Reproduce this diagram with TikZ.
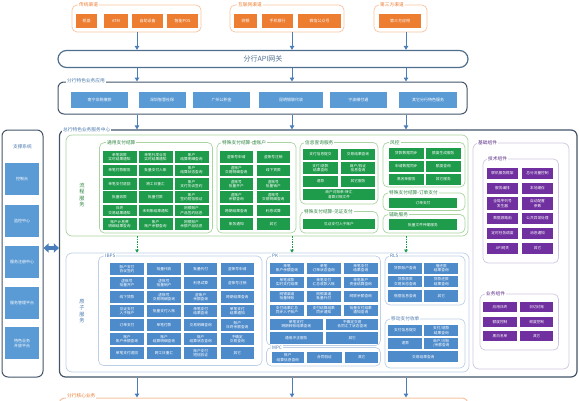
\documentclass[tikz,border=0pt]{standalone}
\usepackage{fontspec}
\setmainfont{Noto Sans CJK SC}
\usetikzlibrary{arrows.meta}

\definecolor{chorange}{HTML}{ED7D31}
\definecolor{chline}{HTML}{F6C3A0}
\definecolor{frame}{HTML}{44546A}
\definecolor{gwline}{HTML}{4F6F8F}
\definecolor{cblue}{HTML}{5B9BD5}
\definecolor{ablue}{HTML}{4E8BCB}
\definecolor{lblue}{HTML}{BDD0E6}
\definecolor{tblue}{HTML}{4A79AE}
\definecolor{cgreen}{HTML}{1E9B4B}
\definecolor{lgreen}{HTML}{A9D4A0}
\definecolor{tgreen}{HTML}{2E8540}
\definecolor{cpurple}{HTML}{7030A0}
\definecolor{lpurple}{HTML}{CFC6E0}
\definecolor{tpurple}{HTML}{5B2C86}
\definecolor{arrowblue}{HTML}{4A7EBB}

\begin{document}
\begin{tikzpicture}[x=1pt, y=-1pt,
  box/.style={draw=#1, rounded corners=5pt, line width=0.7pt, inner sep=0pt},
  ttl/.style={fill=white, inner sep=1pt, anchor=west, text=#1, font=\fontsize{4.7}{5}\selectfont},
  cell/.style={fill=#1, text=white, inner sep=0pt, align=center, font=\fontsize{3.7}{4.3}\selectfont},
  ocell/.style={cell=chorange, minimum height=14pt, font=\fontsize{4}{4.5}\selectfont},
  bcell/.style={cell=cblue, minimum height=16pt, font=\fontsize{4}{4.5}\selectfont},
  scell/.style={cell=cblue, minimum width=34pt, minimum height=32pt, font=\fontsize{4}{5}\selectfont},
  gcell/.style={cell=cgreen, minimum width=34pt, minimum height=11.6pt},
  icell/.style={cell=ablue, minimum width=33.5pt, minimum height=11.5pt},
  pcell/.style={cell=cpurple, minimum width=31.6pt, minimum height=10.5pt},
  arrow/.style={-{Triangle[width=4.5pt,length=4pt]}, line width=1pt, draw=arrowblue},
  dasharrow/.style={-{Triangle[width=3.5pt,length=3pt]}, line width=0.6pt, draw=cgreen, dash pattern=on 1.5pt off 1pt},
  dblarrow/.style={{Triangle[width=9pt,length=5pt]}-{Triangle[width=9pt,length=5pt]}, line width=3.5pt, draw=arrowblue}
]
\clip (0,0) rectangle (579,400);

\coordinate (colA) at (137,0);
\coordinate (colB) at (292,0);
\coordinate (colC) at (406,0);

% channels
\node[box=chline, minimum width=129pt, minimum height=27pt] (trad) at (136.5,18.5) {};
\node[box=chline, minimum width=114pt, minimum height=27pt] (net) at (287,18.5) {};
\node[box=chline, minimum width=53pt, minimum height=27pt] (third) at (400.5,18.5) {};
\node[ttl=chorange] (tradT) at (78,5) {传统渠道};
\node[ttl=chorange] (netT) at (237,5) {互联网渠道};
\node[ttl=chorange] (thirdT) at (379,5) {第三方渠道};

\node[ocell, minimum width=21pt] (trad1) at (86.5,21) {柜面};
\node[ocell, minimum width=24pt] (trad2) at (116,21) {ATM};
\node[ocell, minimum width=31pt] (trad3) at (147.5,21) {自助设备};
\node[ocell, minimum width=31pt] (trad4) at (182.5,21) {智能POS};
\node[ocell, minimum width=23.5pt] (net1) at (245.7,21) {网银};
\node[ocell, minimum width=31pt] (net2) at (277.5,21) {手机银行};
\node[ocell, minimum width=43pt] (net3) at (319.5,21) {微信公众号};
\node[ocell, minimum width=42pt] (third1) at (400,21) {第三方应用};

% gateway
\node[draw=gwline, line width=1.2pt, rounded corners=8.5pt, minimum width=410pt, minimum height=17pt,
  text=gwline, font=\fontsize{7}{8}\selectfont] (gw) at (263,59) {分行API网关};

\draw[arrow] (trad.south -| colA) -- (gw.north -| colA);
\draw[arrow] (net.south -| colB) -- (gw.north -| colB);
\draw[arrow] (third.south -| colC) -- (gw.north -| colC);

% branch applications
\node[box=frame, line width=1pt, rounded corners=6pt, minimum width=409pt, minimum height=32pt] (br) at (262.5,98) {};
\node[ttl=tblue] (brT) at (66,81) {分行特色业务应用};
\node[bcell, minimum width=57pt] (br1) at (99.7,99.7) {南宁非税缴款};
\node[bcell, minimum width=47pt] (br2) at (162,99.7) {深圳智慧社保};
\node[bcell, minimum width=56.7pt] (br3) at (221.7,99.7) {广州公积金};
\node[bcell, minimum width=63.4pt] (br4) at (291,99.7) {昆明银联代收};
\node[bcell, minimum width=56.7pt] (br5) at (358.3,99.7) {宁波缴付通};
\node[bcell, minimum width=57.4pt] (br6) at (428,99.7) {其它分行特色服务};

\draw[arrow] (gw.south -| colA) -- (br.north -| colA);
\draw[arrow] (gw.south -| colB) -- (br.north -| colB);
\draw[arrow] (gw.south -| colC) -- (br.north -| colC);

% support systems
\node[box=frame, line width=1pt, rounded corners=6pt, minimum width=41pt, minimum height=247pt] (support) at (22.5,253.5) {};
\node[text=tblue, font=\fontsize{4.7}{5}\selectfont] (supT) at (22.5,147) {支撑系统};
\node[scell] (sup1) at (22.2,179) {控制台};
\node[scell] (sup2) at (22.2,221) {监控中心};
\node[scell] (sup3) at (22.2,261.5) {服务注册中心};
\node[scell] (sup4) at (22.2,302.5) {服务管理平台};
\node[scell] (sup5) at (22.2,343.3) {特色业务\\开放平台};

% service center
\node[box=frame, line width=1.2pt, rounded corners=6pt, minimum width=517.5pt, minimum height=247pt] (center) at (318.25,253.5) {};
\node[ttl=tblue] (centerT) at (62,130) {总行特色业务服务中心};

\draw[arrow] (br.south -| colA) -- (center.north -| colA);
\draw[arrow] (br.south -| colB) -- (center.north -| colB);
\draw[arrow] (br.south -| colC) -- (center.north -| colC);
\draw[dblarrow] ([yshift=5.5pt]support.east) -- ([yshift=5.5pt]center.west);

% process services
\node[box=lgreen, rounded corners=6pt, minimum width=402pt, minimum height=101pt] (flow) at (267,185.5) {};
\node[text=tgreen, align=center, font=\fontsize{5.2}{6.5}\selectfont] (flowL) at (82,195) {流\\程\\服\\务};

\node[box=lgreen, minimum width=113pt, minimum height=90.5pt] (gen) at (156,187.75) {};
\node[ttl=tgreen] (genT) at (106,142.5) {通用支付结算};
\node[gcell] (gen11) at (119.5,157) {单笔收款\\实时结果通知};
\node[gcell] (gen12) at (155.5,157) {单笔代发业务\\实时结果通知};
\node[gcell] (gen13) at (191.5,157) {账户\\结算明细查询};
\node[gcell] (gen21) at (119.5,170.4) {单笔付款服务};
\node[gcell] (gen22) at (155.5,170.4) {批量支付入账};
\node[gcell] (gen23) at (191.5,170.4) {账户\\结算状态查询};
\node[gcell] (gen31) at (119.5,183.8) {单笔支付退回};
\node[gcell] (gen32) at (155.5,183.8) {跨工日重汇};
\node[gcell] (gen33) at (191.5,183.8) {账户\\支付协议签约};
\node[gcell] (gen41) at (119.5,197.2) {批量收款};
\node[gcell] (gen42) at (155.5,197.2) {批量付款};
\node[gcell] (gen43) at (191.5,197.2) {账户\\签约短信验证};
\node[gcell] (gen51) at (119.5,210.6) {日终\\交易结果通知};
\node[gcell] (gen52) at (155.5,210.6) {未到账结果通知};
\node[gcell] (gen53) at (191.5,210.6) {网银账户\\产品签约信息};
\node[gcell] (gen61) at (119.5,224) {账户计息费\\明细结果查询};
\node[gcell] (gen62) at (155.5,224) {账户\\账户余额查询};
\node[gcell] (gen63) at (191.5,224) {网银账户\\余额产品信息};

\node[box=lgreen, minimum width=79pt, minimum height=90.5pt] (virt) at (256.5,187.75) {};
\node[ttl=tgreen] (virtT) at (221,142.5) {特殊支付结算-虚账户};
\node[gcell, minimum width=33pt] (virt11) at (236.3,157) {虚账号申请};
\node[gcell, minimum width=33pt] (virt12) at (273.3,157) {虚账号注销};
\node[gcell, minimum width=33pt] (virt21) at (236.3,170.4) {虚账户\\交易明细查询};
\node[gcell, minimum width=33pt] (virt22) at (273.3,170.4) {线下贷款};
\node[gcell, minimum width=33pt] (virt31) at (236.3,183.8) {虚账号\\批量开户};
\node[gcell, minimum width=33pt] (virt32) at (273.3,183.8) {虚账号\\批量销户};
\node[gcell, minimum width=33pt] (virt41) at (236.3,197.2) {虚账户\\余额查询};
\node[gcell, minimum width=33pt] (virt42) at (273.3,197.2) {虚账号\\交易明细查询};
\node[gcell, minimum width=33pt] (virt51) at (236.3,210.6) {跨期结果查询};
\node[gcell, minimum width=33pt] (virt52) at (273.3,210.6) {利息试算};
\node[gcell, minimum width=33pt] (virt61) at (236.3,224) {账务通知};
\node[gcell, minimum width=33pt] (virt62) at (273.3,224) {其它};

\node[box=lgreen, minimum width=78pt, minimum height=61.5pt] (info) at (339,173.25) {};
\node[ttl=tgreen] (infoT) at (304,142.5) {信息查询服务};
\node[gcell, minimum width=34.5pt, minimum height=11.5pt] (info11) at (320.5,154.5) {支付信息提交};
\node[gcell, minimum width=34.5pt, minimum height=11.5pt] (info12) at (358,154.5) {交易结果查询};
\node[gcell, minimum width=34.5pt, minimum height=11.5pt] (info21) at (320.5,168) {支付/退款\\结果查询};
\node[gcell, minimum width=34.5pt, minimum height=11.5pt] (info22) at (358,168) {商户/验证\\信息查询};
\node[gcell, minimum width=34.5pt, minimum height=11.5pt] (info31) at (320.5,181.5) {退款};
\node[gcell, minimum width=34.5pt, minimum height=11.5pt] (info32) at (358,181.5) {其它服务};
\node[gcell, minimum width=72pt, minimum height=11.5pt] (info41) at (339,194.5) {商户对账单-转汇\\清算对账文件};

\node[box=lgreen, minimum width=78pt, minimum height=21.5pt] (witness) at (339,222.25) {};
\node[ttl=tgreen] (witnessT) at (303,211.5) {特殊支付结算-见证支付};
\node[gcell, minimum width=72pt, minimum height=10.5pt] (witness1) at (339,224) {见证支付入子账户};

\node[box=lgreen, minimum width=82pt, minimum height=44.5pt] (risk) at (424,164.75) {};
\node[ttl=tgreen] (riskT) at (389,142.5) {风控};
\node[gcell, minimum width=34.5pt, minimum height=10.5pt] (risk11) at (406.3,153.5) {贷款数据同步};
\node[gcell, minimum width=34.5pt, minimum height=10.5pt] (risk12) at (443.3,153.5) {额度生成服务};
\node[gcell, minimum width=34.5pt, minimum height=10.5pt] (risk21) at (406.3,166.5) {申请数据同步};
\node[gcell, minimum width=34.5pt, minimum height=10.5pt] (risk22) at (443.3,166.5) {额度查询};
\node[gcell, minimum width=34.5pt, minimum height=10.5pt] (risk31) at (406.3,179.5) {黑名单服务};
\node[gcell, minimum width=34.5pt, minimum height=10.5pt] (risk32) at (443.3,179.5) {其它服务};

\node[box=lgreen, minimum width=82pt, minimum height=17.5pt] (order) at (424,201.75) {};
\node[ttl=tgreen] (orderT) at (388,193) {特殊支付结算-订单支付};
\node[gcell, minimum width=68pt, minimum height=10pt] (order1) at (423,203.3) {订单支付};

\node[box=lgreen, minimum width=82pt, minimum height=18.5pt] (aux) at (424,223.75) {};
\node[ttl=tgreen] (auxT) at (388,214.5) {辅助服务};
\node[gcell, minimum width=68pt, minimum height=10.5pt] (aux1) at (423,224.7) {批量文件传输服务};

% atomic services
\node[box=lblue, rounded corners=6pt, minimum width=403pt, minimum height=119pt] (atom) at (267.5,312.5) {};
\node[text=tblue, align=center, font=\fontsize{5.2}{6.5}\selectfont] (atomL) at (82,311) {原\\子\\服\\务};

\draw[dasharrow] (flow.south -| colA) -- (atom.north -| colA);
\draw[dasharrow] (flow.south -| colB) -- (atom.north -| colB);
\draw[dasharrow] (flow.south -| colC) -- (atom.north -| colC);

\node[box=lblue, minimum width=163.5pt, minimum height=109.5pt] (ibps) at (180.25,310.75) {};
\node[ttl=tblue] (ibpsT) at (104,256) {IBPS};
\node[icell] (ibps11) at (127,269) {账户支付\\协议签约};
\node[icell] (ibps12) at (164,269) {批量代收};
\node[icell] (ibps13) at (200.7,269) {批量代付};
\node[icell] (ibps14) at (237.3,269) {虚账号申请};
\node[icell] (ibps21) at (127,283) {虚账号\\批量开户};
\node[icell] (ibps22) at (164,283) {虚账号\\批量销户};
\node[icell] (ibps23) at (200.7,283) {利息试算};
\node[icell] (ibps24) at (237.3,283) {虚账号注销};
\node[icell] (ibps31) at (127,297) {线下贷款};
\node[icell] (ibps32) at (164,297) {虚账号\\交易明细查询};
\node[icell] (ibps33) at (200.7,297) {虚账户\\余额查询};
\node[icell] (ibps34) at (237.3,297) {跨期结果查询};
\node[icell] (ibps41) at (127,311) {见证支付\\入子账户};
\node[icell] (ibps42) at (164,311) {批量支付入账};
\node[icell] (ibps43) at (200.7,311) {单笔支付\\结果查询};
\node[icell] (ibps44) at (237.3,311) {单笔支付\\结果通知};
\node[icell] (ibps51) at (127,325) {订单支付};
\node[icell] (ibps52) at (164,325) {单笔付款};
\node[icell] (ibps53) at (200.7,325) {交易明细查询};
\node[icell] (ibps54) at (237.3,325) {账户\\日终余额查询};
\node[icell] (ibps61) at (127,339) {账户\\账户余额查询};
\node[icell] (ibps62) at (164,339) {账户\\结算明细查询};
\node[icell] (ibps63) at (200.7,339) {账户\\结算状态查询};
\node[icell] (ibps64) at (237.3,339) {不确定\\交易查询};
\node[icell] (ibps71) at (127,353) {单笔支付退回};
\node[icell] (ibps72) at (164,353) {跨工日重汇};
\node[icell] (ibps73) at (200.7,353) {账户支付\\短信验证};
\node[icell] (ibps74) at (237.3,353) {其它};

\node[box=lblue, minimum width=114pt, minimum height=89.5pt] (pk) at (323.5,300.75) {};
\node[ttl=tblue] (pkT) at (271,256) {PK};
\node[icell, minimum width=34pt] (pk11) at (287,268.3) {单笔\\账户余额查询};
\node[icell, minimum width=34pt] (pk12) at (323.8,268.3) {单笔\\订单状态查询};
\node[icell, minimum width=34pt] (pk13) at (360.8,268.3) {单笔支付\\结果查询};
\node[icell, minimum width=34pt] (pk21) at (287,282.3) {单笔收款\\实时支付结果};
\node[icell, minimum width=34pt] (pk22) at (323.8,282.3) {单笔支付\\汇总收款入账};
\node[icell, minimum width=34pt] (pk23) at (360.8,282.3) {单笔账户\\资金结算查询};
\node[icell, minimum width=34pt] (pk31) at (287,296.3) {网银渠道\\批量转账};
\node[icell, minimum width=34pt] (pk32) at (323.8,296.3) {网银渠道\\批量代付};
\node[icell, minimum width=34pt] (pk33) at (360.8,296.3) {网联余额查询};
\node[icell, minimum width=34pt] (pk41) at (287,310.3) {支付结果汇总\\同步入子账户};
\node[icell, minimum width=34pt] (pk42) at (323.8,310.3) {支付结算结果\\同步通知};
\node[icell, minimum width=34pt] (pk43) at (360.8,310.3) {批量支付结果\\通知查询};
\node[icell, minimum width=52.7pt] (pk51) at (296.3,324.3) {单笔支付\\跨期转账结果查询};
\node[icell, minimum width=52.3pt] (pk52) at (352.2,324.3) {不确定交易\\合同汇丁状态查询};
\node[icell, minimum width=52.7pt] (pk61) at (296.3,337.8) {通用冲正服务};
\node[icell, minimum width=52.3pt] (pk62) at (352.2,337.8) {其它};

\node[box=lblue, minimum width=114pt, minimum height=18.5pt] (mpc) at (323.5,356.75) {};
\node[ttl=tblue] (mpcT) at (271,347.5) {MPC};
\node[icell, minimum width=32.3pt] (mpc1) at (287.8,357.5) {账户\\结算信息查询};
\node[icell, minimum width=34.4pt] (mpc2) at (324.5,357.5) {合同验证};
\node[icell, minimum width=33.3pt] (mpc3) at (361.7,357.5) {其它};

\node[box=lblue, minimum width=80pt, minimum height=49pt] (rls) at (425,280.5) {};
\node[ttl=tblue] (rlsT) at (389,256) {RLS};
\node[icell, minimum width=34pt] (rls11) at (405.3,268.3) {贷款账户查询};
\node[icell, minimum width=34pt] (rls12) at (441.3,268.3) {借还款\\结果查询};
\node[icell, minimum width=34pt] (rls21) at (405.3,281.7) {贷款放款\\交易状态查询};
\node[icell, minimum width=34pt] (rls22) at (441.3,281.7) {贷款还款\\结果查询};
\node[icell, minimum width=34pt] (rls31) at (405.3,295.8) {借据信息查询};
\node[icell, minimum width=34pt] (rls32) at (441.3,295.8) {其它};

\node[box=lblue, minimum width=80pt, minimum height=49pt] (mobile) at (425,343.5) {};
\node[ttl=tblue] (mobileT) at (390,319) {移动支付收单};
\node[icell, minimum width=34pt] (mobile11) at (405.3,330.5) {支付信息提交};
\node[icell, minimum width=34pt] (mobile12) at (441.3,330.5) {支付/退款\\结果查询};
\node[icell, minimum width=34pt] (mobile21) at (405.3,343.3) {退款};
\node[icell, minimum width=34pt] (mobile22) at (441.3,343.3) {商户/对账\\/余额查询};
\node[icell, minimum width=70pt] (mobile31) at (423.3,356.7) {交易结果查询};

% base components
\node[box=lpurple, rounded corners=6pt, minimum width=96pt, minimum height=226pt] (base) at (521,256) {};
\node[ttl=tpurple] (baseT) at (477,143) {基础组件};
\node[box=lpurple, minimum width=75.5pt, minimum height=104pt] (tech) at (520.75,211) {};
\node[ttl=tpurple] (techT) at (487,159) {技术组件};
\node[pcell] (tech11) at (502.5,173.5) {联机服务框架};
\node[pcell] (tech12) at (537.5,173.5) {总分流量控制};
\node[pcell] (tech21) at (502.5,188.5) {服务编排};
\node[pcell] (tech22) at (537.5,188.5) {本地缓存};
\node[pcell, minimum height=13pt] (tech31) at (502.5,203.5) {全局序列号\\发生器};
\node[pcell, minimum height=13pt] (tech32) at (537.5,203.5) {自动配置\\参数};
\node[pcell] (tech41) at (502.5,218.5) {数据源路由};
\node[pcell] (tech42) at (537.5,218.5) {公共异常处理};
\node[pcell] (tech51) at (502.5,233.5) {定时任务调度};
\node[pcell] (tech52) at (537.5,233.5) {消息通知};
\node[pcell] (tech61) at (502.5,248.5) {API网关};
\node[pcell] (tech62) at (537.5,248.5) {其它};

\node[box=lpurple, minimum width=78.5pt, minimum height=56pt] (biz) at (519.25,322) {};
\node[ttl=tpurple] (bizT) at (485,294) {业务组件};
\node[pcell, minimum width=33.3pt, minimum height=10pt] (biz11) at (500,306.7) {应用日终};
\node[pcell, minimum width=33.3pt, minimum height=10pt] (biz12) at (536.7,306.7) {日切对账};
\node[pcell, minimum width=33.3pt, minimum height=10pt] (biz21) at (500,321.7) {额度控制};
\node[pcell, minimum width=33.3pt, minimum height=10pt] (biz22) at (536.7,321.7) {频度控制};
\node[pcell, minimum width=33.3pt, minimum height=10pt] (biz31) at (500,336) {黑白名单};
\node[pcell, minimum width=33.3pt, minimum height=10pt] (biz32) at (536.7,336) {其它};

% branch core
\node[box=chline, line width=1pt, rounded corners=6pt, minimum width=409pt, minimum height=32pt] (core) at (263.5,414) {};
\node[ttl=chorange] (coreT) at (66,396) {分行核心业务};

\draw[arrow] (center.south -| colA) -- (core.north -| colA);
\draw[arrow] (center.south -| colB) -- (core.north -| colB);
\draw[arrow] (center.south -| colC) -- (core.north -| colC);
\end{tikzpicture}
\end{document}
